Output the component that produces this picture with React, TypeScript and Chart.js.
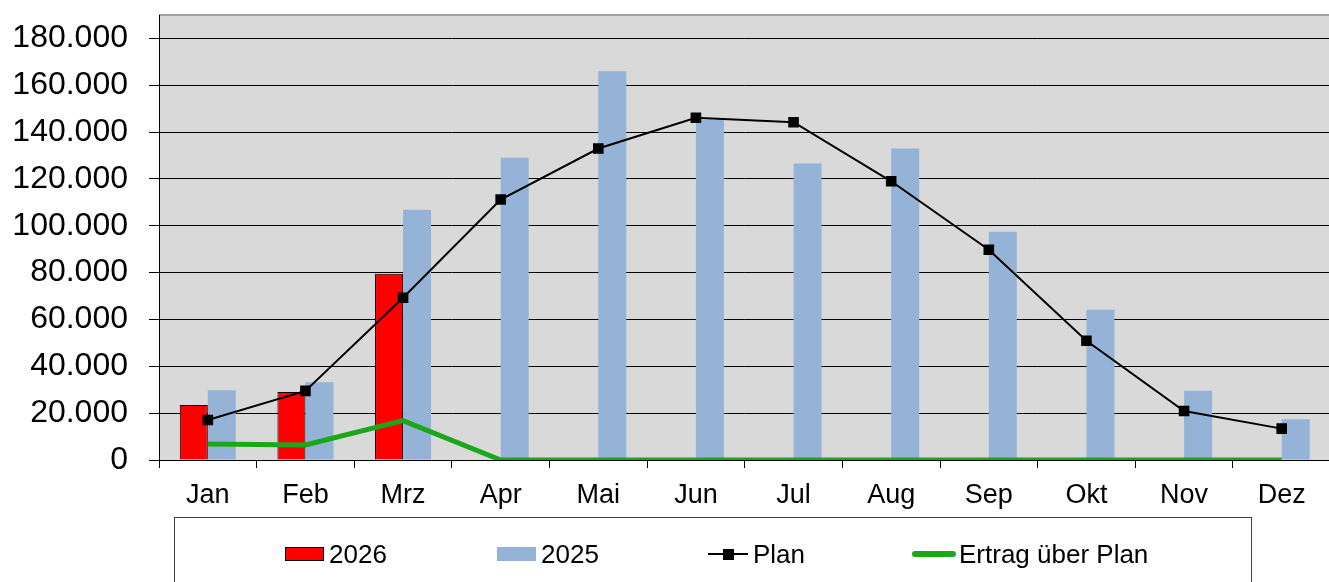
import React, { useEffect, useRef } from "react";
import { Chart, registerables } from "chart.js";

Chart.register(...registerables);

const months = ["Jan", "Feb", "Mrz", "Apr", "Mai", "Jun", "Jul", "Aug", "Sep", "Okt", "Nov", "Dez"];
const values2026: (number | null)[] = [23500, 29000, 79500, null, null, null, null, null, null, null, null, null];
const values2025 = [29800, 33200, 106900, 129100, 166000, 145400, 126600, 133000, 97500, 64100, 29600, 17400];
const plan = [17100, 29500, 69300, 111200, 133000, 146100, 144200, 119000, 89800, 50900, 20900, 13400];
const ertrag = [6800, 6400, 16800, 0, 0, 0, 0, 0, 0, 0, 0, 0];
const yTicks = [0, 20000, 40000, 60000, 80000, 100000, 120000, 140000, 160000, 180000];
const legendLabels = ["2026", "2025", "Plan", "Ertrag über Plan"];

const RED = "#ff0000";
const BLUE = "#95b3d7";
const GREEN = "#1aa81a";
const FONT = "'Liberation Sans', Arial, Helvetica, sans-serif";

function fmt(v: number): string {
  const s = Math.round(v).toString();
  return s.replace(/\B(?=(\d{3})+(?!\d))/g, ".");
}

const plotBg = {
  id: "plotBg",
  beforeDraw(chart: any) {
    const { ctx, chartArea } = chart;
    ctx.save();
    ctx.fillStyle = "#d9d9d9";
    ctx.fillRect(chartArea.left, chartArea.top, chartArea.right - chartArea.left, chartArea.bottom - chartArea.top);
    ctx.strokeStyle = "#a0a0a0";
    ctx.lineWidth = 2;
    ctx.beginPath();
    ctx.moveTo(chartArea.left, chartArea.top);
    ctx.lineTo(chartArea.right, chartArea.top);
    ctx.stroke();
    ctx.restore();
  },
};

const customLegend = {
  id: "customLegend",
  afterDraw(chart: any) {
    const ctx = chart.ctx;
    ctx.save();
    ctx.strokeStyle = "#404040";
    ctx.lineWidth = 1;
    ctx.strokeRect(174.5, 517.5, 1077, 80);
    ctx.font = `26px ${FONT}`;
    ctx.fillStyle = "#000";
    ctx.textBaseline = "alphabetic";
    const ty = 563;
    // 2026
    ctx.fillStyle = RED;
    ctx.fillRect(285, 547, 39, 14);
    ctx.strokeStyle = "#000";
    ctx.strokeRect(285.5, 547.5, 38, 13);
    ctx.fillStyle = "#000";
    ctx.fillText(legendLabels[0], 329, ty);
    // 2025
    ctx.fillStyle = BLUE;
    ctx.fillRect(497, 547, 39, 14);
    ctx.fillStyle = "#000";
    ctx.fillText(legendLabels[1], 541, ty);
    // Plan
    ctx.strokeStyle = "#000";
    ctx.lineWidth = 2;
    ctx.beginPath();
    ctx.moveTo(708, 554);
    ctx.lineTo(748, 554);
    ctx.stroke();
    ctx.fillRect(723, 549, 11, 11);
    ctx.fillText(legendLabels[2], 753, ty);
    // Ertrag
    ctx.strokeStyle = GREEN;
    ctx.lineWidth = 6;
    ctx.lineCap = "round";
    ctx.beginPath();
    ctx.moveTo(915, 554);
    ctx.lineTo(953, 554);
    ctx.stroke();
    ctx.fillText(legendLabels[3], 959, ty);
    ctx.restore();
  },
};

export default function App() {
  const ref = useRef<HTMLCanvasElement | null>(null);

  useEffect(() => {
    if (!ref.current) return;
    Chart.defaults.font.family = FONT;
    Chart.defaults.color = "#000";
    const chart = new Chart(ref.current, {
      type: "bar",
      data: {
        labels: months,
        datasets: [
          {
            type: "line",
            label: "Plan",
            data: plan,
            borderColor: "#000",
            backgroundColor: "#000",
            borderWidth: 2,
            pointStyle: "rect",
            pointRadius: 7.5,
            pointBorderWidth: 0,
            pointBackgroundColor: "#000",
            tension: 0,
            order: 0,
          } as any,
          {
            type: "line",
            label: "Ertrag über Plan",
            data: ertrag,
            borderColor: GREEN,
            backgroundColor: GREEN,
            borderWidth: 5,
            pointRadius: 0,
            tension: 0,
            order: 1,
          } as any,
          {
            type: "bar",
            label: "2026",
            data: values2026,
            backgroundColor: RED,
            borderColor: "#000",
            borderWidth: 1,
            categoryPercentage: 0.574,
            barPercentage: 1,
            order: 2,
          },
          {
            type: "bar",
            label: "2025",
            data: values2025,
            backgroundColor: BLUE,
            borderWidth: 0,
            categoryPercentage: 0.574,
            barPercentage: 1,
            order: 2,
          },
        ],
      },
      options: {
        responsive: false,
        animation: false,
        layout: { padding: { top: 15, left: 0, right: 0, bottom: 0 } },
        plugins: {
          legend: { display: false },
          tooltip: { enabled: false },
        },
        scales: {
          x: {
            grid: {
              drawOnChartArea: false,
              drawTicks: true,
              tickLength: 8,
              color: "#000",
              offset: true,
            },
            border: { display: true, color: "#000", width: 1 },
            ticks: {
              font: { size: 27 },
              color: "#000",
              padding: 11,
              maxRotation: 0,
            },
            afterFit: (scale: any) => {
              scale.height = 122;
              scale.paddingLeft = 0;
              scale.paddingRight = 0;
            },
          },
          y: {
            min: 0,
            max: 190000,
            grid: {
              color: "#000",
              lineWidth: 1,
              tickLength: 10,
              drawTicks: true,
            },
            border: { display: true, color: "#000", width: 1 },
            ticks: {
              font: { size: 32 },
              color: "#000",
              padding: 21,
              callback: (v: any) => fmt(Number(v)),
            },
            afterBuildTicks: (scale: any) => {
              scale.ticks = yTicks.map((v) => ({ value: v }));
            },
            afterFit: (scale: any) => {
              scale.width = 159;
              scale.paddingTop = 0;
              scale.paddingBottom = 0;
            },
          },
        },
      },
      plugins: [plotBg, customLegend],
    });
    return () => chart.destroy();
  }, []);

  return (
    <div style={{ position: "absolute", left: 0, top: 0, width: 1329, height: 582, overflow: "hidden", background: "#fff" }}>
      <canvas ref={ref} width={1338} height={582} style={{ display: "block" }} />
    </div>
  );
}
